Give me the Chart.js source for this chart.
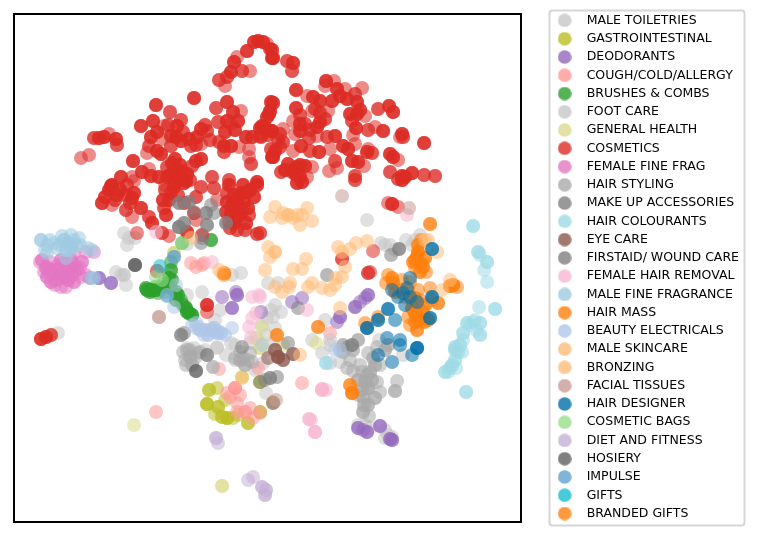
<!DOCTYPE html>
<html>
<head>
<meta charset="utf-8">
<style>
  html, body { margin: 0; padding: 0; background: #fff; }
  canvas { display: block; }
</style>
<script src="https://cdn.jsdelivr.net/npm/chart.js@4"></script>
</head>
<body>
<canvas id="chart-canvas" width="765" height="538"></canvas>
<script>
// points are [x, y, n], n = how many products sit on that same spot (default 1)
const maleToiletries = [[124,233],[129,238],[127,245],[135,238],[116,272],[124,275,2],[126,285],[121,275],[58,333],[367,220],[420,235],[412,245],[385,245],[390,245],[268,283],[278,283],[232,275],[241,273],[202,292],[187,295],[231,343],[217,347],[187,348],[194,348],[330,363],[322,353],[266,393],[358,425],[385,438],[392,437],[235,360],[217,348],[271,310],[273,317],[267,318],[220,310],[187,244],[281,312],[262,325],[275,328],[266,335],[257,338],[266,350],[325,320],[275,305],[215,320],[205,350],[226,355],[255,370],[263,363],[312,340],[340,362],[379,340],[403,355],[385,430],[388,435],[365,425],[370,428],[415,240],[395,250],[381,243],[406,240],[330,345]];
const gastrointestinal = [[209,390,2],[217,388],[207,404,3],[218,407,2],[215,414],[227,418,3],[233,418],[222,417,2],[248,423,2],[260,412,2],[273,402],[225,400],[260,382,2],[242,377],[174,253],[238,415]];
const deodorants = [[111,283,2],[99,278,2],[90,278],[222,297],[236,292],[232,308,2],[237,295,2],[261,312],[355,307,2],[360,302],[365,298],[368,295,2],[292,302],[302,298],[340,317,2],[337,322],[380,426,2],[358,428,2],[367,432,2],[392,440,2],[390,439,2],[363,430]];
const coughColdAllergy = [[156,412],[235,388,3],[230,397],[237,403],[245,412,2],[237,412],[260,413],[253,418],[258,368],[219,369],[302,383],[227,393],[191,263],[196,267],[204,263],[202,265],[330,333],[322,390],[240,395],[250,408]];
const brushesCombs = [[189,313,3],[192,315,3],[186,308,3],[151,290,3],[156,290,3],[147,290,3],[167,287,2],[171,270,2],[169,278,2],[176,292,2],[176,300,2],[182,304],[161,287,2],[211,240,2],[182,243],[171,262],[146,288,2],[150,292,2],[155,287],[158,293],[163,284],[172,280,2],[171,288],[178,295,2],[181,300],[184,306],[187,312,2],[165,292]];
const footCare = [[273,403],[330,340],[343,352],[348,347],[353,350],[213,367],[235,345],[250,343],[275,340]];
const generalHealth = [[134,425],[222,486,2],[316,343],[260,348,2],[283,345],[262,327],[262,343],[255,338]];
const cosmetics = [
  [258,41,3],[254,42,3],[263,42,3],[247,51,3],[272,50,3],[272,58,3],[234,62,3],[231,72,3],[156,105,3],[194,98,3],[219,80,2],[225,86],[237,57],[250,71],[242,71,2],[227,77,2],
  [216,108,2],[170,112,2],[227,102,3],[233,112,3],[241,111],[227,121,3],[238,121,3],[218,122,2],[231,124],[141,126,3],[153,121,3],[164,126],[181,120,2],[177,126,3],[171,136,3],[151,137,3],[157,132,3],[162,139],[149,146,2],[147,153],
  [99,138,3],[94,138,2],[104,137,3],[109,134],[116,139,3],[117,145,2],[89,155],[81,158],[133,161,3],[121,177,3],[111,186,3],[132,177],[134,181],[142,172,3],[149,169],[151,176,3],[159,177,3],
  [157,151,3],[161,154,3],[175,159,3],[174,171,3],[167,177,3],[182,171,3],[177,177,3],[187,174,3],[186,181,3],[167,167,2],[196,161,3],[201,159,3],[192,166,2],[189,139,3],[201,129,3],[197,137,3],[207,131,2],[201,144],[191,146,2],[181,141,3],[171,146,2],[176,137,3],[219,142,2],[224,146,3],[231,146,3],[224,152,2],
  [212,177,2],[229,180,2],[257,182,3],[246,137,3],[252,137,3],[261,137,2],[271,131,3],[262,126,3],[269,114,3],[271,102,3],[249,149],[239,147],[249,157],[251,164,2],[271,149,2],[272,157,3],
  [270,49,2],[273,58,3],[267,44],[287,61,2],[293,63,3],[292,71,2],[326,81,3],[334,81],[325,86],[337,89,3],[345,89],[362,88],[296,90,3],[307,96],[313,97,3],[355,94,2],[320,101,3],[332,101,3],[340,96,3],[347,99,3],[357,102,3],[315,109,2],[312,111],[328,111],
  [273,103,3],[270,111,3],[267,117,3],[296,108,3],[378,109,2],[389,106,3],[393,112,3],[350,114,3],[357,114,3],[365,116],[352,121,2],[356,128,3],[368,130,2],[375,127],[383,131,3],[353,135],[402,134,3],[403,137,2],[400,137],[424,143,3],
  [300,124,3],[293,121],[305,124,2],[300,131,3],[320,122,3],[325,119,2],[317,127,3],[283,129],[280,134,2],[272,131,3],[265,127,3],[260,136,2],[295,134],[309,138,2],[317,136],[327,137,2],[335,136,3],
  [343,146,3],[348,149,3],[355,144],[367,152,3],[372,153,2],[368,149],[390,154,3],[393,157,3],[398,160],[352,161,3],[358,162,3],[364,166],[355,176,2],[335,161,2],[329,171],[337,168],[319,152,3],[330,149],[301,146,3],[310,151,2],[293,151],[275,151,3],[273,157,3],[283,142,2],[280,147,2],
  [288,164,3],[297,167,3],[305,166,3],[292,172,2],[300,177,3],[312,167],[281,172,2],[307,177],[302,182,3],[390,172,2],[402,176,3],[412,173,3],[424,175,2],[435,176,2],[398,179,2],[405,177,3],
  [102,203,3],[112,205],[109,190,3],[117,195,3],[112,185,3],[127,185,2],[134,193,3],[132,198,3],[141,208,3],[126,210,2],[132,217],[149,217,2],[152,223,3],[162,233,2],[169,236],[137,233],
  [166,215,3],[169,200,3],[171,193,2],[164,208,2],[174,187,3],[184,183,3],[194,213,2],[196,220],[187,232,3],[184,203,2],[196,197,2],[201,187,2],[217,200],[214,188,2],[229,185,3],
  [227,202,3],[234,195,3],[247,192,3],[257,185,3],[244,202,3],[231,213,3],[241,213,3],[234,223,3],[246,223,3],[237,230,2],[257,234,2],[249,215,2],[254,197,3],[227,193,2],[236,205,3],[241,193,3],[237,217,3],[229,222,2],[202,235,2],
  [207,305,3],[207,312],[157,271,2],[46,337,3],[41,339,3],[51,335,2],[392,204,3],[388,203],[398,207],[342,259,2],[373,251],[370,272],[368,273,2],[260,233,2],[297,183,3],[402,180,3],[355,180,2],
  [170,175,3],[180,165,3],[165,185],[175,183,3],[190,180,2],[172,163,3],[180,178,3],[232,205,3],[240,208,3],[248,208,3],[226,212,3],[238,198,3],[250,190,3],[243,185,3],[230,228,2],[245,230,2],[120,190,3],[125,195,2],[105,197,3],[115,200,2],[130,203,2],[163,200,3],[165,190,2],[178,195,2],[293,170,3],[285,170,3],[300,165,3],[296,175,3],[260,128,3],[268,135,2],[278,140,2],[168,125,2],[183,132,2],[196,145,2],[210,140,2],[205,125,2],[225,132,3],[235,130,3],[320,113,2],[300,115,2],[310,130,2],[360,110,3]
];
const femaleFineFrag = [[42,260,2],[46,268,2],[47,277,2],[51,282,2],[61,287],[66,287],[74,282,2],[57,270,2],[69,270,2],[82,262,2],[77,270,2],[86,252],[94,252],[74,253],[61,260,2],[54,273,2],[64,277,2],[72,275,2],[47,267],[81,277],[86,275],[64,263,2],[71,260,2],[56,280,2],[51,270,2],[50,262],[58,265],[66,270],[75,265],[60,275,2],[68,280,2],[48,272],[80,268],[55,285],[72,268,2],[40,262],[44,272]];
const hairStyling = [[367,375,2],[370,372,2],[365,382,3],[362,390,2],[368,388,3],[375,398,2],[364,405,2],[369,416],[395,391,2],[397,381],[353,371],[373,358,2],[368,353],[377,347],[388,345,2],[347,368],[353,350],[343,352],[348,347],[363,397,2],[377,382],[190,357,2],[185,360],[195,358],[187,350],[213,367],[243,358],[240,360,2],[248,360],[200,352],[375,365,2],[360,365],[358,380,2],[372,380,2],[358,395],[380,392],[363,412,2],[368,405,2],[380,365],[385,350,2],[350,360],[340,350],[362,372],[190,350],[183,352],[192,365,2],[186,365],[198,353],[240,352],[250,353],[245,365,2],[235,358],[252,362]];
const makeUpAccessories = [[179,227,3],[184,223,2],[179,203,2],[189,202,2],[207,225,2],[206,213,2],[194,212],[214,213],[202,238],[226,223,2],[201,243],[211,205]];
const hairColourants = [[473,226,2],[478,252,2],[480,255],[487,262,2],[484,270],[487,282],[495,309,2],[479,307],[467,323,2],[480,323,2],[473,322],[463,333,2],[480,335,2],[455,347,2],[463,340],[458,352,2],[455,360,2],[450,368,2],[445,372,2],[466,392,2],[326,363,2],[475,320],[455,350,2],[460,345,2],[462,352],[452,365,2],[456,368],[448,372],[470,325],[476,330]];
const eyeCare = [[278,357,3],[268,358],[283,360,2],[293,354,2],[273,403],[275,350,2]];
const firstaidWoundCare = [[327,275],[298,308],[288,343],[181,335,2],[184,333],[242,347],[343,345],[352,345,2],[358,340],[207,355,2],[270,378,2],[265,380],[277,377],[260,382],[391,255],[399,249,2],[367,328]];
const femaleHairRemoval = [[156,232],[212,262],[252,297],[260,297],[249,327],[252,318],[256,313],[251,337],[259,295],[407,215],[307,310],[309,419,2],[315,432,3],[322,389,2],[326,390],[311,420]];
const maleFineFragrance = [[41,240,2],[47,245],[54,243],[64,240,2],[71,235],[79,238],[57,248],[72,247],[66,258],[47,253],[92,250],[71,250],[76,245],[91,278],[94,278],[50,240],[60,245],[68,243,2],[74,240],[66,250,2],[45,250],[80,245],[62,236],[88,248]];
const hairMass = [[430,224,2],[417,257,3],[420,263,3],[418,252,3],[415,260,2],[423,267,2],[420,272,2],[388,275],[392,278,2],[393,283,2],[402,280],[408,290],[453,285,3],[450,286,3],[457,287],[438,303,2],[430,288],[415,313,3],[423,312,2],[417,330,2],[428,320,2],[408,317],[318,327,2],[277,335,2],[365,323],[378,317],[405,297],[418,290],[350,385,2],[352,393,3],[224,273,2],[413,262,2],[425,258,2],[418,245,2],[421,240],[415,268],[426,272],[395,292,2],[400,290],[412,300],[420,300],[410,282],[386,283],[432,300],[424,322,2],[415,322,2],[410,325],[420,318,3],[418,320,3],[412,308,3],[425,305,2],[415,298,2]];
const beautyElectricals = [[199,327],[211,330,2],[217,333,2],[206,330,2],[196,323],[221,333,2],[232,328],[174,307],[167,295],[176,285],[340,350],[335,350],[262,345],[200,330,2],[204,335],[208,335,2],[214,328,2],[218,331],[196,328],[192,325],[225,335]];
const maleSkincare = [[275,207],[270,217],[282,218],[288,215,2],[293,218],[300,225],[302,215],[307,208],[312,221],[283,213],[297,215],[268,247],[275,252,2],[270,257],[265,270],[306,259],[293,269],[302,269]];
const bronzing = [[338,247],[356,243],[367,241],[350,249],[342,252],[345,267],[336,278],[342,277],[335,285],[330,290],[322,288],[308,287],[312,283],[290,283],[289,287],[275,287],[282,292],[340,308],[428,240],[425,240],[437,252],[442,290],[450,280],[191,238],[219,270],[222,273],[242,378],[300,355]];
const facialTissues = [[159,317,2],[342,196],[157,271],[409,208],[276,400]];
const hairDesigner = [[432,249,2],[410,278],[407,288],[398,297],[417,302],[432,297,2],[388,309,2],[395,320],[378,320,2],[367,328,2],[430,318,2],[417,348,3],[387,338],[400,340],[405,305],[403,293],[392,290],[410,297],[400,345],[392,362],[378,355],[412,355]];
const cosmeticBags = [[156,277],[162,280],[182,243]];
const dietAndFitness = [[216,438,2],[218,443],[253,477],[248,480],[262,487,2],[266,490,2],[265,495,2]];
const hosiery = [[135,265,3],[196,371,2]];
const impulse = [[174,257,2],[167,296]];
const gifts = [[160,266]];
const brandedGifts = [[224,275]];

const labels = ['MALE TOILETRIES','GASTROINTESTINAL','DEODORANTS','COUGH/COLD/ALLERGY','BRUSHES & COMBS','FOOT CARE','GENERAL HEALTH','COSMETICS','FEMALE FINE FRAG','HAIR STYLING','MAKE UP ACCESSORIES','HAIR COLOURANTS','EYE CARE','FIRSTAID/ WOUND CARE','FEMALE HAIR REMOVAL','MALE FINE FRAGRANCE','HAIR MASS','BEAUTY ELECTRICALS','MALE SKINCARE','BRONZING','FACIAL TISSUES','HAIR DESIGNER','COSMETIC BAGS','DIET AND FITNESS','HOSIERY','IMPULSE','GIFTS','BRANDED GIFTS'];
const series = [maleToiletries,gastrointestinal,deodorants,coughColdAllergy,brushesCombs,footCare,generalHealth,cosmetics,femaleFineFrag,hairStyling,makeUpAccessories,hairColourants,eyeCare,firstaidWoundCare,femaleHairRemoval,maleFineFragrance,hairMass,beautyElectricals,maleSkincare,bronzing,facialTissues,hairDesigner,cosmeticBags,dietAndFitness,hosiery,impulse,gifts,brandedGifts];
const colors = ['199,199,199','188,189,34','148,103,189','255,152,150','44,160,44','199,199,199','219,219,141','221,44,36','227,119,194','170,170,170','127,127,127','158,218,229','140,86,75','127,127,127','247,182,210','158,202,225','255,127,14','174,199,232','255,187,120','255,187,120','196,156,148','0,111,169','152,223,138','197,176,213','95,95,95','95,162,208','23,190,207','255,127,14'];

function expand(points) {
  const out = [];
  points.forEach(([x, y, n = 1]) => {
    for (let i = 0; i < n; i++) out.push({ x, y });
  });
  return out;
}

// round legend marker, the wide pointStyleWidth would stretch the built in circle
function legendDot(rgb) {
  const c = document.createElement('canvas');
  c.width = c.height = 14;
  const g = c.getContext('2d');
  g.fillStyle = `rgba(${rgb},0.8)`;
  g.beginPath();
  g.arc(7, 7, 6.8, 0, Math.PI * 2);
  g.fill();
  return c;
}

// matplotlib style legend frame
const legendFrame = {
  id: 'legendFrame',
  beforeDraw(chart) {
    const { ctx } = chart;
    ctx.save();
    ctx.strokeStyle = '#d6d6d6';
    ctx.lineWidth = 2;
    ctx.beginPath();
    ctx.roundRect(549.5, 10.5, 195, 515, 3);
    ctx.stroke();
    ctx.restore();
  },
};

function hiddenAxis(position, size, extra) {
  const horizontal = position === 'top' || position === 'bottom';
  return {
    position,
    ticks: { display: false },
    grid: { display: false, drawTicks: false },
    border: { display: true, color: '#000', width: 2 },
    afterFit(scale) {
      if (horizontal) scale.height = size;
      else scale.width = size;
    },
    ...extra,
  };
}

new Chart(document.getElementById('chart-canvas'), {
  type: 'scatter',
  data: {
    datasets: series.map((pts, i) => ({
      label: labels[i],
      data: expand(pts),
      backgroundColor: `rgba(${colors[i]},0.55)`,
      borderWidth: 0,
      pointRadius: 7,
      order: series.length - i,
    })),
  },
  options: {
    responsive: false,
    animation: false,
    devicePixelRatio: 1,
    layout: { padding: { top: 1, bottom: 5, left: 0, right: 16 } },
    scales: {
      x: hiddenAxis('bottom', 11, { min: 14, max: 521 }),
      y: hiddenAxis('left', 14, { min: 14, max: 522, reverse: true }),
      x2: hiddenAxis('top', 13, { type: 'linear' }),
      y2: hiddenAxis('right', 22, { type: 'linear' }),
    },
    plugins: {
      tooltip: { enabled: false },
      legend: {
        position: 'right',
        maxWidth: 224,
        labels: {
          usePointStyle: true,
          pointStyleWidth: 31.5,
          padding: 5.76,
          color: '#000',
          font: { family: 'DejaVu Sans', size: 12.5 },
          sort: (a, b) => a.datasetIndex - b.datasetIndex,
          generateLabels(chart) {
            return Chart.defaults.plugins.legend.labels.generateLabels(chart).map((item) => ({
              ...item,
              pointStyle: legendDot(colors[item.datasetIndex]),
              lineWidth: 0,
            }));
          },
        },
      },
    },
  },
  plugins: [legendFrame],
});
</script>
</body>
</html>
